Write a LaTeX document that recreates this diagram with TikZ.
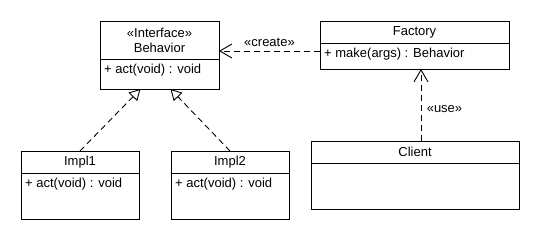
\documentclass[tikz,border=0pt]{standalone}
\usepackage{fontspec}
\setmainfont{Liberation Sans}
\usetikzlibrary{arrows.meta,positioning}
\tikzset{
  umlbox/.style    = {draw, line width=0.9pt, inner sep=0pt, outer sep=0pt},
  classname/.style = {umlbox, align=center, anchor=north west, minimum height=22pt},
  member/.style    = {inner sep=0pt, anchor=north west, xshift=4pt, yshift=-5pt},
  realizes/.style  = {line width=0.9pt, dash pattern=on 6pt off 4pt,
                      -{Triangle[open, length=11pt, width=12pt, line width=0.9pt]}},
  uses/.style      = {line width=0.9pt, dash pattern=on 6pt off 4pt,
                      -{Straight Barb[length=12pt, width=14pt, line width=0.9pt]}},
}

\begin{document}
\begin{tikzpicture}[x=1pt, y=-1pt, font=\fontsize{13pt}{15pt}\selectfont]
\useasboundingbox (0,0) rectangle (540,240);
% ---------------- interface ----------------
\node[classname, minimum width=119pt, minimum height=38pt] (behavior) at (100,21)
      {«Interface»\\Behavior};
\node[umlbox, minimum width=119pt, minimum height=30pt, below=0pt of behavior]
      (behaviorOps) {};
\node[member] (behaviorAct) at (behaviorOps.north west) {+ act(void) : void};
% ---------------- factory ----------------
\node[classname, minimum width=189pt] (factory) at (320,21) {Factory};
\node[umlbox, minimum width=189pt, minimum height=26pt, below=0pt of factory]
      (factoryOps) {};
\node[member] (factoryMake) at (factoryOps.north west) {+ make(args) : Behavior};
% ---------------- client ----------------
\node[classname, minimum width=208pt] (client) at (311,141) {Client};
\node[umlbox, minimum width=208pt, minimum height=46pt, below=0pt of client]
      (clientOps) {};
% ---------------- implementations ----------------
\node[classname, minimum width=118pt] (impl1) at (21,151) {Impl1};
\node[umlbox, minimum width=118pt, minimum height=46pt, below=0pt of impl1]
      (impl1Ops) {};
\node[member] (impl1Act) at (impl1Ops.north west) {+ act(void) : void};
\node[classname, minimum width=118pt] (impl2) at (171,151) {Impl2};
\node[umlbox, minimum width=118pt, minimum height=46pt, below=0pt of impl2]
      (impl2Ops) {};
\node[member] (impl2Act) at (impl2Ops.north west) {+ act(void) : void};
% ---------------- relations ----------------
\draw[realizes] (impl1.north) -- ([xshift=-19pt]behaviorOps.south);
\draw[realizes] (impl2.north) -- ([xshift=11pt]behaviorOps.south);
\coordinate (createFrom) at ([yshift=5pt]factoryOps.west);
\draw[uses] (createFrom) -- (createFrom -| behavior.east)
      node[midway, above=1pt] {«create»};
\coordinate (useFrom) at ([xshift=6pt]client.north);
\draw[uses] (useFrom) -- (useFrom |- factoryOps.south)
      node[pos=0.45, right=2pt] {«use»};
\end{tikzpicture}
\end{document}
